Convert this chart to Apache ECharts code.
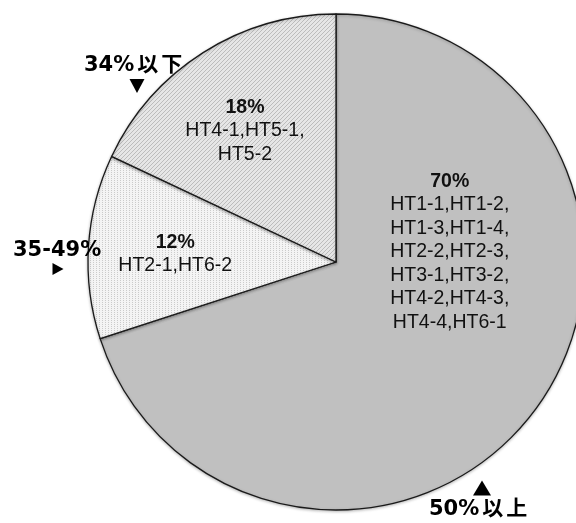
<!DOCTYPE html>
<html>
<head>
<meta charset="utf-8">
<script src="https://cdn.jsdelivr.net/npm/echarts@6/dist/echarts.min.js"></script>
<style>
  html, body { margin: 0; padding: 0; background: #fff; }
  #chart { width: 576px; height: 523px; }
</style>
</head>
<body>
<div id="chart"></div>
<script>
// Share of samples per concentration band (clockwise from 12 o'clock)
const bands = ['50%以上', '35-49%', '34%以下'];
const shares = [70, 12, 18];
const members = [
  ['HT1-1', 'HT1-2', 'HT1-3', 'HT1-4', 'HT2-2', 'HT2-3', 'HT3-1', 'HT3-2', 'HT4-2', 'HT4-3', 'HT4-4', 'HT6-1'],
  ['HT2-1', 'HT6-2'],
  ['HT4-1', 'HT5-1', 'HT5-2']
];

// Fill patterns drawn on small tiles
function tile(w, h, bg, fg, pixels) {
  const c = document.createElement('canvas');
  c.width = w; c.height = h;
  const ctx = c.getContext('2d');
  ctx.fillStyle = bg;
  ctx.fillRect(0, 0, w, h);
  ctx.fillStyle = fg;
  pixels.forEach(p => ctx.fillRect(p[0], p[1], 1, 1));
  return c;
}
const hatch = tile(4, 4, '#e6e6e6', '#bcbcbc', [[0, 3], [1, 2], [2, 1], [3, 0]]);
const dots = tile(3, 2, '#f4f4f4', '#cbcbcb', [[0, 0]]);
const fills = [
  '#c0c0c0',
  { image: dots, repeat: 'repeat' },
  { image: hatch, repeat: 'repeat' }
];

// Label placement inside each slice (offset from the default inside anchor)
const labelOffsets = [[11, -85], [-34, 0], [-23, -24]];

function memberLines(list) {
  const lines = [];
  for (let i = 0; i < list.length; i += 2) {
    const pair = list.slice(i, i + 2).join(',');
    lines.push(i + 2 < list.length ? pair + ',' : pair);
  }
  return lines.join('\n');
}

const seriesData = bands.map((name, i) => ({
  name: name,
  value: shares[i],
  itemStyle: { color: fills[i] },
  label: { offset: labelOffsets[i] }
}));

// Band captions placed around the pie, each with a pointer triangle
const captionFamily = '"DejaVu Sans", "Noto Sans CJK JP", sans-serif';
const captions = [
  { text: bands[2], x: 84, y: 66, tri: { cx: 137, cy: 86, w: 15, h: 14, dir: 'down' } },
  { text: bands[1], x: 13, y: 251, tri: { cx: 58, cy: 269, w: 11, h: 12, dir: 'right' } },
  { text: bands[0], x: 429, y: 510, tri: { cx: 482, cy: 488, w: 18, h: 15, dir: 'up' } }
];

function triPoints(t) {
  const hw = t.w / 2, hh = t.h / 2;
  if (t.dir === 'down') return [[t.cx - hw, t.cy - hh], [t.cx + hw, t.cy - hh], [t.cx, t.cy + hh]];
  if (t.dir === 'up') return [[t.cx - hw, t.cy + hh], [t.cx + hw, t.cy + hh], [t.cx, t.cy - hh]];
  return [[t.cx - hw, t.cy - hh], [t.cx - hw, t.cy + hh], [t.cx + hw, t.cy]];
}

// Split a caption into its Latin part and its CJK part so each gets its own spacing
function captionRich(text) {
  const m = text.match(/^([^\u3000-\u9fff]*)([\u3000-\u9fff]*)$/);
  const latin = m ? m[1] : text;
  const cjk = m ? m[2] : '';
  let s = '{a|' + latin + '}';
  if (cjk) s += cjk.split('').map(ch => '{c|' + ch + '}').join('');
  return s;
}

const graphics = [];
captions.forEach(c => {
  graphics.push({
    type: 'text', z: 10,
    style: {
      text: captionRich(c.text), x: c.x, y: c.y, align: 'left', verticalAlign: 'middle',
      rich: {
        a: { fontFamily: captionFamily, fontWeight: 'bold', fontSize: 21, fill: '#000', height: 26 },
        c: { fontFamily: captionFamily, fontWeight: 'bold', fontSize: 21, fill: '#000', padding: [0, 0, 0, 3], height: 26 }
      }
    }
  });
  graphics.push({
    type: 'polygon', z: 10,
    shape: { points: triPoints(c.tri) },
    style: { fill: '#000' }
  });
});

const chart = echarts.init(document.getElementById('chart'), null, { renderer: 'canvas' });
chart.setOption({
  backgroundColor: '#ffffff',
  animation: false,
  series: [{
    type: 'pie',
    center: [336, 262],
    radius: [0, 248],
    startAngle: 90,
    clockwise: true,
    avoidLabelOverlap: false,
    emphasis: { disabled: true },
    itemStyle: {
      borderColor: '#1a1a1a',
      borderWidth: 1.3,
      shadowColor: 'rgba(0,0,0,0.25)',
      shadowBlur: 3,
      shadowOffsetY: 1
    },
    label: {
      show: true,
      position: 'inside',
      align: 'center',
      color: '#111',
      fontFamily: '"Liberation Sans", Arial, sans-serif',
      fontSize: 19.5,
      lineHeight: 23.5,
      formatter: p => '{pct|' + p.value + '%}\n' + memberLines(members[p.dataIndex]),
      rich: {
        pct: { fontWeight: 'bold', fontSize: 19.5, lineHeight: 23.5, color: '#111', fontFamily: '"Liberation Sans", Arial, sans-serif' }
      }
    },
    labelLine: { show: false },
    data: seriesData
  }],
  graphic: graphics
});
</script>
</body>
</html>
